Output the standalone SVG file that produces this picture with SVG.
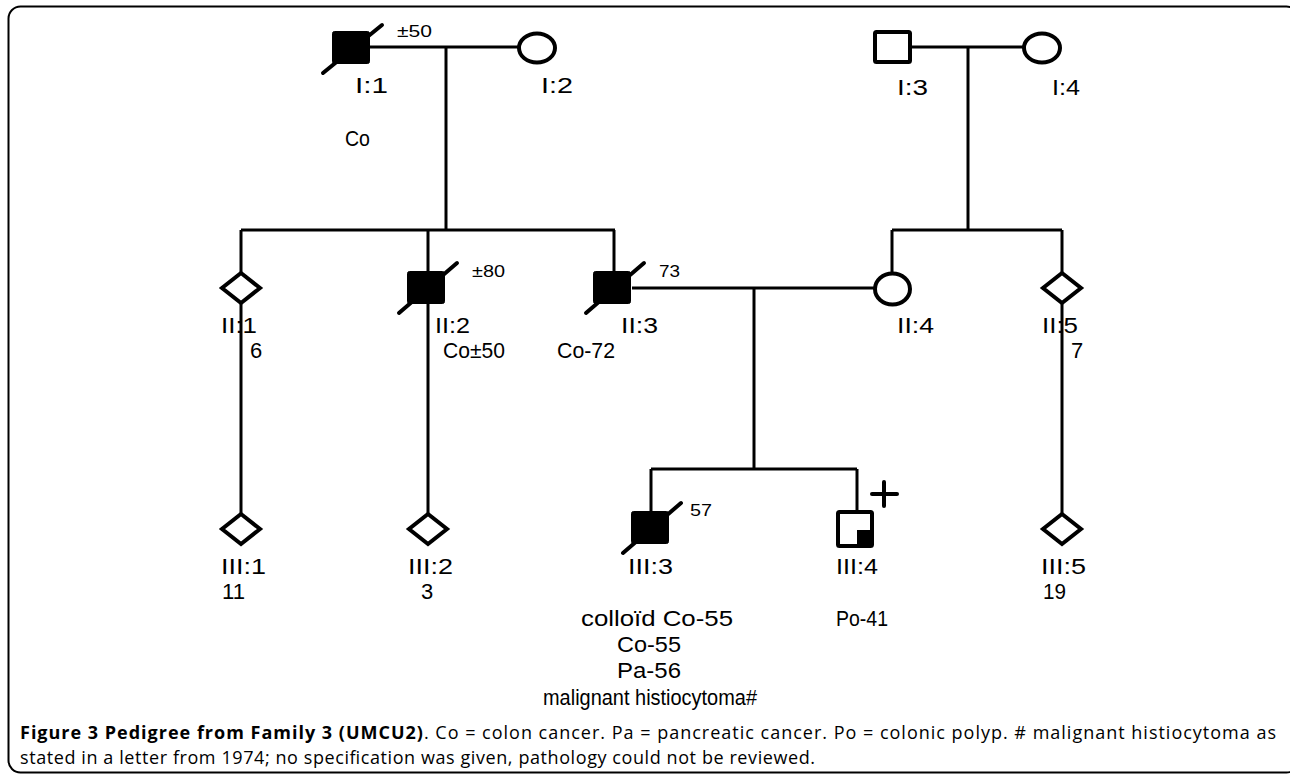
<svg xmlns="http://www.w3.org/2000/svg" width="1290" height="778" viewBox="0 0 1290 778">
<style>
.ln{stroke:#000;stroke-width:3;fill:none}
.open{fill:#fff;stroke:#000;stroke-width:4}
.aff{fill:#000;stroke:#000;stroke-width:1}
.sl{stroke:#000;stroke-width:4;stroke-linecap:round}
.t{font-family:"Liberation Sans",Arial,sans-serif;font-size:22px;fill:#000}
.s{font-family:"Liberation Sans",Arial,sans-serif;font-size:16px;fill:#000}
.cap{font-family:"Open Sans","Liberation Sans",sans-serif;font-size:18px;fill:#000}
</style>
<rect x="8.5" y="6.5" width="1290" height="766" rx="12" fill="#fff" stroke="#000" stroke-width="2"/>
<g id="connectors">
<line class="ln" x1="370" y1="47" x2="519" y2="47"/>
<line class="ln" x1="446" y1="47" x2="446" y2="230"/>
<line class="ln" x1="241" y1="230" x2="615" y2="230"/>
<line class="ln" x1="241" y1="230" x2="241" y2="274"/>
<line class="ln" x1="241" y1="302" x2="241" y2="515"/>
<line class="ln" x1="428" y1="230" x2="428" y2="515"/>
<line class="ln" x1="614" y1="230" x2="614" y2="272"/>
<line class="ln" x1="910" y1="47" x2="1024" y2="47"/>
<line class="ln" x1="968" y1="47" x2="968" y2="230"/>
<line class="ln" x1="892" y1="230" x2="1062" y2="230"/>
<line class="ln" x1="892" y1="230" x2="892" y2="273"/>
<line class="ln" x1="1062" y1="230" x2="1062" y2="274"/>
<line class="ln" x1="1062" y1="302" x2="1062" y2="515"/>
<line class="ln" x1="632" y1="288" x2="875" y2="288"/>
<line class="ln" x1="754" y1="288" x2="754" y2="469"/>
<line class="ln" x1="651" y1="469" x2="857" y2="469"/>
<line class="ln" x1="651" y1="469" x2="651" y2="512"/>
<line class="ln" x1="857" y1="469" x2="857" y2="512"/>
</g>
<g id="I1">
<rect class="aff" x="332.5" y="31.5" width="37" height="32" rx="2"/>
<line class="sl" x1="323" y1="73" x2="382" y2="25"/>
<text class="s" x="397" y="37" textLength="35" lengthAdjust="spacingAndGlyphs">±50</text>
<text class="t" x="355" y="93" textLength="33" lengthAdjust="spacingAndGlyphs">I:1</text>
<text class="t" x="345" y="146" textLength="25" lengthAdjust="spacingAndGlyphs">Co</text>
</g>
<g id="I2">
<ellipse class="open" cx="537" cy="48" rx="18" ry="14.5"/>
<text class="t" x="541" y="93" textLength="32" lengthAdjust="spacingAndGlyphs">I:2</text>
</g>
<g id="I3">
<rect class="open" x="875" y="32" width="35" height="30" rx="1.5"/>
<text class="t" x="897" y="95" textLength="31" lengthAdjust="spacingAndGlyphs">I:3</text>
</g>
<g id="I4">
<ellipse class="open" cx="1042" cy="48" rx="18" ry="14.5"/>
<text class="t" x="1052" y="95" textLength="28" lengthAdjust="spacingAndGlyphs">I:4</text>
</g>
<g id="II1">
<polygon class="open" points="241,273 260,288 241,303 222,288"/>
<text class="t" x="221" y="333" textLength="36" lengthAdjust="spacingAndGlyphs">II:1</text>
<text class="t" x="250" y="358">6</text>
</g>
<g id="II2">
<rect class="aff" x="407.5" y="271.5" width="37" height="32" rx="2"/>
<line class="sl" x1="399" y1="313" x2="457" y2="263"/>
<text class="s" x="472" y="277" textLength="33" lengthAdjust="spacingAndGlyphs">±80</text>
<text class="t" x="435" y="333" textLength="35" lengthAdjust="spacingAndGlyphs">II:2</text>
<text class="t" x="443" y="358" textLength="62" lengthAdjust="spacingAndGlyphs">Co±50</text>
</g>
<g id="II3">
<rect class="aff" x="593.5" y="271.5" width="37" height="32" rx="2"/>
<line class="sl" x1="586" y1="313" x2="644" y2="263"/>
<text class="s" x="659" y="277" textLength="21" lengthAdjust="spacingAndGlyphs">73</text>
<text class="t" x="621" y="333" textLength="37" lengthAdjust="spacingAndGlyphs">II:3</text>
<text class="t" x="557" y="358" textLength="58" lengthAdjust="spacingAndGlyphs">Co-72</text>
</g>
<g id="II4">
<ellipse class="open" cx="892.5" cy="289" rx="17.5" ry="15.5"/>
<text class="t" x="897" y="333" textLength="37" lengthAdjust="spacingAndGlyphs">II:4</text>
</g>
<g id="II5">
<polygon class="open" points="1062,273 1081,288 1062,303 1043,288"/>
<text class="t" x="1042" y="333" textLength="36" lengthAdjust="spacingAndGlyphs">II:5</text>
<text class="t" x="1071" y="358">7</text>
</g>
<g id="III1">
<polygon class="open" points="241,514 260,529 241,544 222,529"/>
<text class="t" x="221" y="574" textLength="45" lengthAdjust="spacingAndGlyphs">III:1</text>
<text class="t" x="222" y="599" textLength="23" lengthAdjust="spacingAndGlyphs">11</text>
</g>
<g id="III2">
<polygon class="open" points="428,514 447,529 428,544 409,529"/>
<text class="t" x="408" y="574" textLength="45" lengthAdjust="spacingAndGlyphs">III:2</text>
<text class="t" x="421" y="599">3</text>
</g>
<g id="III3">
<rect class="aff" x="631.5" y="511.5" width="37" height="32" rx="2"/>
<line class="sl" x1="623" y1="553" x2="681" y2="503"/>
<text class="s" x="690" y="516" textLength="22" lengthAdjust="spacingAndGlyphs">57</text>
<text class="t" x="628" y="574" textLength="45" lengthAdjust="spacingAndGlyphs">III:3</text>
<text class="t" x="581" y="626" textLength="152" lengthAdjust="spacingAndGlyphs">colloïd Co-55</text>
<text class="t" x="617" y="652" textLength="64" lengthAdjust="spacingAndGlyphs">Co-55</text>
<text class="t" x="617" y="678" textLength="64" lengthAdjust="spacingAndGlyphs">Pa-56</text>
<text class="t" x="543" y="705" textLength="214" lengthAdjust="spacingAndGlyphs">malignant histiocytoma#</text>
</g>
<g id="III4">
<rect class="open" x="838" y="512" width="34" height="34" rx="1.5"/>
<rect x="857" y="530" width="15" height="16" fill="#000"/>
<line class="sl" x1="872" y1="494" x2="897" y2="494" stroke-linecap="butt"/>
<line class="sl" x1="884" y1="482" x2="884" y2="506" stroke-linecap="butt"/>
<text class="t" x="836" y="574" textLength="42" lengthAdjust="spacingAndGlyphs">III:4</text>
<text class="t" x="836" y="626" textLength="52" lengthAdjust="spacingAndGlyphs">Po-41</text>
</g>
<g id="III5">
<polygon class="open" points="1062,514 1081,529 1062,544 1043,529"/>
<text class="t" x="1041" y="574" textLength="45" lengthAdjust="spacingAndGlyphs">III:5</text>
<text class="t" x="1043" y="599" textLength="23" lengthAdjust="spacingAndGlyphs">19</text>
</g>
<g id="caption">
<text class="cap" x="20" y="739" textLength="1256" lengthAdjust="spacing"><tspan font-weight="bold">Figure 3 Pedigree from Family 3 (UMCU2)</tspan>. Co = colon cancer. Pa = pancreatic cancer. Po = colonic polyp. # malignant histiocytoma as</text>
<text class="cap" x="20" y="764" textLength="795" lengthAdjust="spacing">stated in a letter from 1974; no specification was given, pathology could not be reviewed.</text>
</g>
</svg>
